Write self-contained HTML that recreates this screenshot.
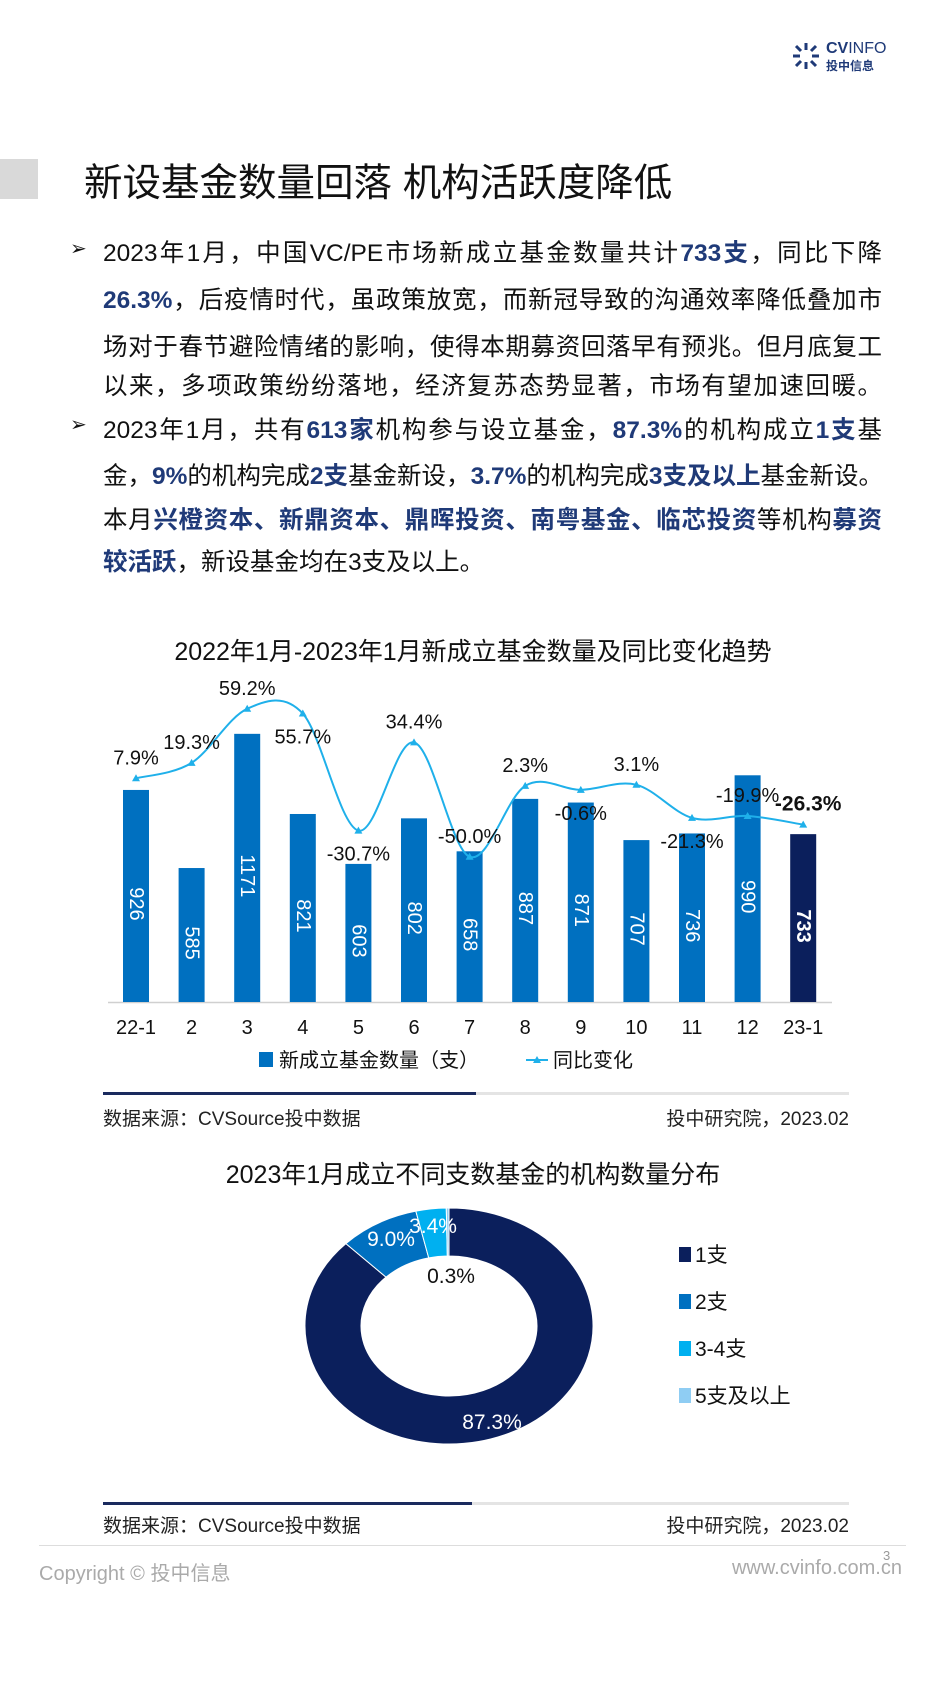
<!DOCTYPE html>
<html><head><meta charset="utf-8">
<style>
body{margin:0;background:#fff;}
#page{position:relative;width:946px;height:1683px;overflow:hidden;font-family:"Liberation Sans","Noto Sans CJK SC",sans-serif;color:#111;}
.abs{position:absolute;}
.line{position:absolute;left:103px;width:779px;font-size:24.5px;text-align:justify;text-align-last:justify;white-space:nowrap;}
.b{color:#1f3a78;font-weight:bold;}
.arrow{position:absolute;left:70px;font-size:20px;}
.src{position:absolute;font-size:19px;color:#222;}
</style></head><body>
<div id="page">
  <div class="abs" style="left:0;top:159px;width:38px;height:40px;background:#d9d9d9"></div>
  <div class="abs" style="left:84px;top:152px;font-size:38.5px;">新设基金数量回落 机构活跃度降低</div>
  <div class="abs" style="left:790px;top:40px;width:130px;height:34px;">
    <svg width="32" height="32" style="position:absolute;left:0;top:0"><g stroke="#1f3a78" stroke-width="3"><line x1="16" y1="3" x2="16" y2="10"/><line x1="16" y1="22" x2="16" y2="29"/><line x1="3" y1="16" x2="10" y2="16"/><line x1="22" y1="16" x2="29" y2="16"/><line x1="6" y1="6" x2="11" y2="11"/><line x1="21" y1="21" x2="26" y2="26"/><line x1="26" y1="6" x2="21" y2="11"/><line x1="6" y1="26" x2="11" y2="21"/></g></svg>
    <div style="position:absolute;left:36px;top:0;font-size:16px;font-weight:bold;color:#1f3a78">CV<span style="font-weight:normal">INFO</span></div>
    <div style="position:absolute;left:36px;top:17px;font-size:12px;font-weight:bold;color:#1f3a78">投中信息</div>
  </div>

  <div class="arrow" style="top:236px">➢</div>
  <div class="line" style="top:234px">2023年1月，中国VC/PE市场新成立基金数量共计<span class="b">733支</span>，同比下降</div>
  <div class="line" style="top:281px"><span class="b">26.3%</span>，后疫情时代，虽政策放宽，而新冠导致的沟通效率降低叠加市</div>
  <div class="line" style="top:328px">场对于春节避险情绪的影响，使得本期募资回落早有预兆。但月底复工</div>
  <div class="line" style="top:367px">以来，多项政策纷纷落地，经济复苏态势显著，市场有望加速回暖。</div>
  <div class="arrow" style="top:412px">➢</div>
  <div class="line" style="top:411px">2023年1月，共有<span class="b">613家</span>机构参与设立基金，<span class="b">87.3%</span>的机构成立<span class="b">1支</span>基</div>
  <div class="line" style="top:457px">金，<span class="b">9%</span>的机构完成<span class="b">2支</span>基金新设，<span class="b">3.7%</span>的机构完成<span class="b">3支及以上</span>基金新设。</div>
  <div class="line" style="top:501px">本月<span class="b">兴橙资本、新鼎资本、鼎晖投资、南粤基金、临芯投资</span>等机构<span class="b">募资</span></div>
  <div class="line" style="top:543px;text-align-last:left"><span class="b">较活跃</span>，新设基金均在3支及以上。</div>

  <div class="abs" style="left:0;width:946px;text-align:center;top:632px;font-size:25px;">2022年1月-2023年1月新成立基金数量及同比变化趋势</div>
  <svg id="c1" class="abs" style="left:0;top:0" width="946" height="1100"></svg>

  <div class="abs" style="left:103px;top:1092px;width:746px;height:3px;background:#e4e4e4"><div style="width:373px;height:3px;background:#1a2a5e"></div></div>
  <div class="src" style="left:103px;top:1104px">数据来源：CVSource投中数据</div>
  <div class="src" style="right:97px;top:1104px">投中研究院，2023.02</div>

  <div class="abs" style="left:0;width:946px;text-align:center;top:1155px;font-size:25px;">2023年1月成立不同支数基金的机构数量分布</div>
  <svg id="c2" class="abs" style="left:0;top:1150px" width="946" height="350"></svg>

  <div class="abs" style="left:103px;top:1502px;width:746px;height:3px;background:#e4e4e4"><div style="width:369px;height:3px;background:#1a2a5e"></div></div>
  <div class="src" style="left:103px;top:1511px">数据来源：CVSource投中数据</div>
  <div class="src" style="right:97px;top:1511px">投中研究院，2023.02</div>

  <div class="abs" style="left:39px;top:1545px;width:867px;height:1px;background:#ddd"></div>
  <div class="abs" style="left:883px;top:1548px;font-size:13px;color:#999">3</div>
  <div class="abs" style="left:39px;top:1557px;font-size:20px;color:#aaa">Copyright © 投中信息</div>
  <div class="abs" style="right:44px;top:1557px;font-size:20px;color:#aaa">www.cvinfo.com.cn</div>
</div>
<script>
const categories=["22-1","2","3","4","5","6","7","8","9","10","11","12","23-1"];
const counts=[926,585,1171,821,603,802,658,887,871,707,736,990,733];
const yoy=[7.9,19.3,59.2,55.7,-30.7,34.4,-50.0,2.3,-0.6,3.1,-21.3,-19.9,-26.3];
const yoyLabels=["7.9%","19.3%","59.2%","55.7%","-30.7%","34.4%","-50.0%","2.3%","-0.6%","3.1%","-21.3%","-19.9%","-26.3%"];
const labelAbove=[1,1,1,0,0,1,1,1,0,1,0,1,1];

const donutCats=["1支","2支","3-4支","5支及以上"];
const donutVals=[87.3,9.0,3.4,0.3];
const donutLabels=["87.3%","9.0%","3.4%","0.3%"];

const NS="http://www.w3.org/2000/svg";
function mk(p,t,a){const e=document.createElementNS(NS,t);for(const k in a)e.setAttribute(k,a[k]);p.appendChild(e);return e;}
const c1=document.getElementById('c1');
const base=1002;
const xS=i=>136+i*55.6;
const yBar=v=>base-v*0.229;
const yLine=p=>789-p*1.355;
mk(c1,'line',{x1:108,y1:base+0.5,x2:832,y2:base+0.5,stroke:'#d0d0d0','stroke-width':1.5});
counts.forEach((v,i)=>{
  const last=i===counts.length-1;
  const r=mk(c1,'rect',{x:xS(i)-13,y:yBar(v),width:26,height:base-yBar(v),fill:last?'#0b1f5c':'#0070c0'});
  
  
  const cx=xS(i),cy=(yBar(v)+base)/2+8;
  const t=mk(c1,'text',{x:cx,y:cy,fill:'#fff','font-size':20,'font-weight':last?'bold':'normal','text-anchor':'middle','dominant-baseline':'central',transform:`rotate(90 ${cx} ${cy})`});
  t.textContent=v;
  
  
  const xl=mk(c1,'text',{x:cx,y:1034,'font-size':20,'text-anchor':'middle',fill:'#111'});
  xl.textContent=categories[i];
  
  
});
const pts=yoy.map((p,i)=>[xS(i),yLine(p)]);
let d=`M${pts[0][0]},${pts[0][1]}`;
for(let i=0;i<pts.length-1;i++){
  const p0=pts[Math.max(0,i-1)],p1=pts[i],p2=pts[i+1],p3=pts[Math.min(pts.length-1,i+2)];
  const k=1/6;
  d+=` C${p1[0]+(p2[0]-p0[0])*k},${p1[1]+(p2[1]-p0[1])*k} ${p2[0]-(p3[0]-p1[0])*k},${p2[1]-(p3[1]-p1[1])*k} ${p2[0]},${p2[1]}`;
}
const ln=mk(c1,'path',{d:d,fill:'none',stroke:'#1fb0ea','stroke-width':2});


pts.forEach((p,i)=>{
  const m=mk(c1,'path',{d:`M${p[0]},${p[1]-4}L${p[0]+4},${p[1]+3}L${p[0]-4},${p[1]+3}Z`,fill:'#1fb0ea'});
  
  
  const last=i===pts.length-1;
  const t=mk(c1,'text',{x:p[0]+(last?5:0),y:labelAbove[i]?p[1]-14:p[1]+30,'font-size':last?21:20,'font-weight':last?'bold':'normal','text-anchor':'middle',fill:'#111'});
  t.textContent=yoyLabels[i];
  
  
});
const lg1=mk(c1,'rect',{x:259,y:1052,width:14,height:15,fill:'#0070c0'});


const lt1=mk(c1,'text',{x:279,y:1067,'font-size':20,fill:'#111'});lt1.textContent='新成立基金数量（支）';


const lg2=mk(c1,'line',{x1:526,y1:1060,x2:548,y2:1060,stroke:'#1fb0ea','stroke-width':2});


mk(c1,'path',{d:'M537,1056L541,1063L533,1063Z',fill:'#1fb0ea'});
const lt2=mk(c1,'text',{x:553,y:1067,'font-size':20,fill:'#111'});lt2.textContent='同比变化';



// donut
const c2=document.getElementById('c2');
const cx=449,cy=1326-1150,rx=144,ry=118,irx=88,iry=70;
const colors=['#0b1f5c','#0070c0','#00b0f0','#8fcdf3'];
const total=donutVals.reduce((a,b)=>a+b,0);
let ang=0;
const P=(a,r1,r2)=>[cx+r1*Math.sin(a),cy-r2*Math.cos(a)];
const labelPos=[[492,1421],[391,1238],[433,1225],[451,1275]];
donutVals.forEach((v,i)=>{
  const a0=ang,a1=ang+v/total*2*Math.PI;ang=a1;
  const lg=(a1-a0)>Math.PI?1:0;
  const o0=P(a0,rx,ry),o1=P(a1,rx,ry),i1=P(a1,irx,iry),i0=P(a0,irx,iry);
  const s=mk(c2,'path',{d:`M${o0}A${rx},${ry} 0 ${lg} 1 ${o1}L${i1}A${irx},${iry} 0 ${lg} 0 ${i0}Z`,fill:colors[i],stroke:'#fff','stroke-width':1});
  
  
  const lp=labelPos[i];
  const t=mk(c2,'text',{x:lp[0],y:lp[1]-1150+8,'font-size':21,'text-anchor':'middle',fill:i===3?'#111':'#fff'});
  t.textContent=donutLabels[i];
  
  
  const ly=1254-1150+i*47;
  const sw=mk(c2,'rect',{x:679,y:ly-7,width:12,height:15,fill:colors[i]});
  
  
  const lt=mk(c2,'text',{x:695,y:ly+8,'font-size':21,fill:'#111'});
  lt.textContent=donutCats[i];
  
  
});
</script>
</body></html>
